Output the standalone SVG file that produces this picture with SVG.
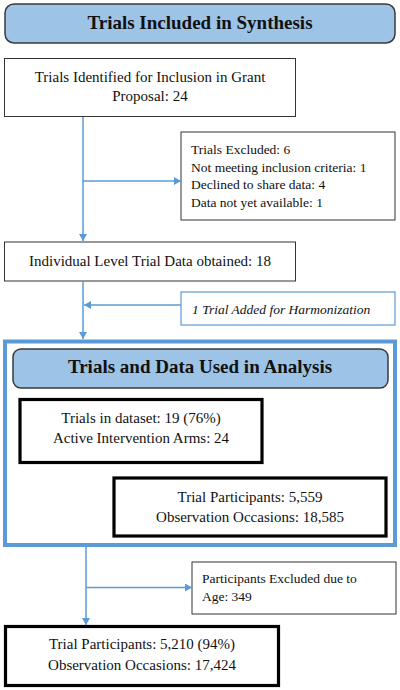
<svg xmlns="http://www.w3.org/2000/svg" width="400" height="690" viewBox="0 0 400 690" font-family="'Liberation Serif', 'Times New Roman', Tinos, 'DejaVu Serif', serif">
<defs>
<style>
text{font-family:'Liberation Serif', 'Times New Roman', Tinos, 'DejaVu Serif', serif;fill:#111}
.t{font-size:15px}
.s{font-size:13.5px}
.h{font-size:19px;font-weight:bold;text-anchor:middle}
.c{text-anchor:middle}
.hdr{fill:#9DC3E6;stroke:#3a3a3a;stroke-width:1.5}
.box{fill:#fff;stroke:#333;stroke-width:1}
.bold{fill:#fff;stroke:#000;stroke-width:3.2}
.blue{fill:#fff;stroke:#5B9BD5;stroke-width:1.2}
.conn line{stroke:#5B9BD5;stroke-width:1.5;fill:none}
</style>
<marker id="ah" markerUnits="userSpaceOnUse" markerWidth="8" markerHeight="8" refX="7" refY="4" orient="auto">
<path d="M0,0 L7,4 L0,8 Z" fill="#5B9BD5"/>
</marker>
</defs>
<rect width="400" height="690" fill="#fff"/>

<g id="title1">
<rect class="hdr" x="5" y="4" width="390" height="39" rx="9"/>
<text class="h" x="200" y="28.5">Trials Included in Synthesis</text>
</g>

<g id="identified">
<rect class="box" x="4.5" y="58.5" width="291" height="58"/>
<text class="t c" x="150" y="82">Trials Identified for Inclusion in Grant</text>
<text class="t c" x="150" y="101">Proposal: 24</text>
</g>

<g id="excluded">
<rect class="box" x="181" y="132" width="214" height="88"/>
<text class="s" x="191" y="154">Trials Excluded: 6</text>
<text class="s" x="191" y="171.5">Not meeting inclusion criteria: 1</text>
<text class="s" x="191" y="189">Declined to share data: 4</text>
<text class="s" x="191" y="206.5">Data not yet available: 1</text>
</g>

<g id="obtained">
<rect class="box" x="4.5" y="242" width="291" height="39"/>
<text class="t c" x="150" y="266">Individual Level Trial Data obtained: 18</text>
</g>

<g id="added">
<rect class="blue" x="181" y="292" width="214" height="33"/>
<text class="s" x="192" y="314" font-style="italic">1 Trial Added for Harmonization</text>
</g>

<g id="analysis">
<rect x="5" y="341.5" width="390" height="203.5" fill="#fff" stroke="#5B9BD5" stroke-width="4"/>
<rect class="hdr" x="13" y="349" width="375" height="39" rx="8"/>
<text class="h" x="200" y="373">Trials and Data Used in Analysis</text>
</g>

<g id="dataset">
<rect class="bold" x="20" y="399.5" width="242" height="63"/>
<text class="t c" x="141" y="423">Trials in dataset: 19 (76%)</text>
<text class="t c" x="141" y="443">Active Intervention Arms: 24</text>
</g>

<g id="participants1">
<rect class="bold" x="114" y="478" width="272" height="58"/>
<text class="t c" x="250" y="502">Trial Participants: 5,559</text>
<text class="t c" x="250" y="522">Observation Occasions: 18,585</text>
</g>

<g id="ageexcl">
<rect class="box" x="192" y="562" width="204" height="52"/>
<text class="s" x="202" y="583">Participants Excluded due to</text>
<text class="s" x="202" y="601">Age: 349</text>
</g>

<g id="final">
<rect class="bold" x="5.5" y="626.5" width="273" height="59"/>
<text class="t c" x="142" y="649">Trial Participants: 5,210 (94%)</text>
<text class="t c" x="142" y="670">Observation Occasions: 17,424</text>
</g>

<g id="connectors" class="conn">
<line x1="83" y1="117" x2="83" y2="241" marker-end="url(#ah)"/>
<line x1="83" y1="181" x2="181" y2="181" marker-end="url(#ah)"/>
<line x1="83" y1="281" x2="83" y2="339" marker-end="url(#ah)"/>
<line x1="181" y1="305" x2="84" y2="305" marker-end="url(#ah)"/>
<line x1="86" y1="547" x2="86" y2="625" marker-end="url(#ah)"/>
<line x1="86" y1="587.5" x2="192" y2="587.5" marker-end="url(#ah)"/>
</g>
</svg>
